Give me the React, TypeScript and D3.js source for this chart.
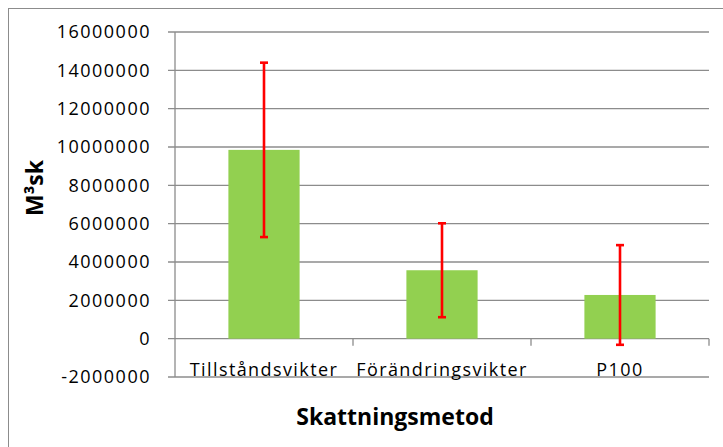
import React from "react";
import * as d3 from "d3";

const categories = ["Tillståndsvikter", "Förändringsvikter", "P100"];
const values = [9850000, 3570000, 2280000];
const errors = [4550000, 2450000, 2600000];
const yTicks = [-2000000, 0, 2000000, 4000000, 6000000, 8000000, 10000000, 12000000, 14000000, 16000000];

const W = 723;
const H = 447;
const margin = { top: 32, right: 14, bottom: 70, left: 175 };
const font = "'Open Sans', 'DejaVu Sans', sans-serif";
const gridColor = "#8c8c8c";

export default function App() {
  const x = d3
    .scaleBand<string>()
    .domain(categories)
    .range([margin.left, W - margin.right])
    .padding(0);

  const y = d3
    .scaleLinear()
    .domain([-2000000, 16000000])
    .range([H - margin.bottom, margin.top]);

  const barW = x.bandwidth() * 0.4;
  const capW = 8;
  const [x0, x1] = x.range();

  return (
    <svg
      width={W}
      height={H}
      style={{ position: "absolute", left: 0, top: 0, background: "#fff" }}
      fontFamily={font}
    >
      {/* chart area border */}
      <rect x={8.5} y={8.5} width={W} height={H} fill="none" stroke="#8c8c8c" strokeWidth={1} />

      {/* gridlines + y ticks */}
      {yTicks.map((t) => (
        <g key={t}>
          <line x1={x0 - 7} x2={x1} y1={y(t)} y2={y(t)} stroke={gridColor} strokeWidth={1.3} />
          <text
            x={x0 - 24}
            y={y(t)}
            dy="0.35em"
            textAnchor="end"
            fontSize={18}
            letterSpacing={1.5}
            fill="#000"
          >
            {t}
          </text>
        </g>
      ))}

      {/* y axis line */}
      <line x1={x0} x2={x0} y1={y(16000000)} y2={y(-2000000)} stroke={gridColor} strokeWidth={1.3} />

      {/* category ticks on the zero line */}
      {categories.map((c) => (
        <line
          key={c}
          x1={(x(c) ?? 0) + x.bandwidth()}
          x2={(x(c) ?? 0) + x.bandwidth()}
          y1={y(0)}
          y2={y(0) + 7}
          stroke={gridColor}
          strokeWidth={1.3}
        />
      ))}

      {/* bars */}
      {categories.map((c, i) => {
        const cx = (x(c) ?? 0) + x.bandwidth() / 2;
        return (
          <rect
            key={c}
            x={cx - barW / 2}
            y={y(values[i])}
            width={barW}
            height={y(0) - y(values[i])}
            fill="#92d050"
          />
        );
      })}

      {/* error bars */}
      {categories.map((c, i) => {
        const cx = (x(c) ?? 0) + x.bandwidth() / 2;
        const hi = y(values[i] + errors[i]);
        const lo = y(values[i] - errors[i]);
        return (
          <g key={c} stroke="#ff0000" strokeWidth={2.6}>
            <line x1={cx} x2={cx} y1={hi} y2={lo} />
            <line x1={cx - capW / 2} x2={cx + capW / 2} y1={hi} y2={hi} />
            <line x1={cx - capW / 2} x2={cx + capW / 2} y1={lo} y2={lo} />
          </g>
        );
      })}

      {/* category labels */}
      {categories.map((c) => (
        <text
          key={c}
          x={(x(c) ?? 0) + x.bandwidth() / 2}
          y={376}
          textAnchor="middle"
          fontSize={18}
          letterSpacing={1.4}
          fill="#000"
        >
          {c}
        </text>
      ))}

      {/* axis titles */}
      <text x={395} y={425} textAnchor="middle" fontSize={23} fontWeight="bold" fill="#000">
        Skattningsmetod
      </text>
      <text
        transform={`translate(43, 188) rotate(-90)`}
        textAnchor="middle"
        fontSize={23}
        fontWeight="bold"
        fill="#000"
      >
        M³sk
      </text>
    </svg>
  );
}
